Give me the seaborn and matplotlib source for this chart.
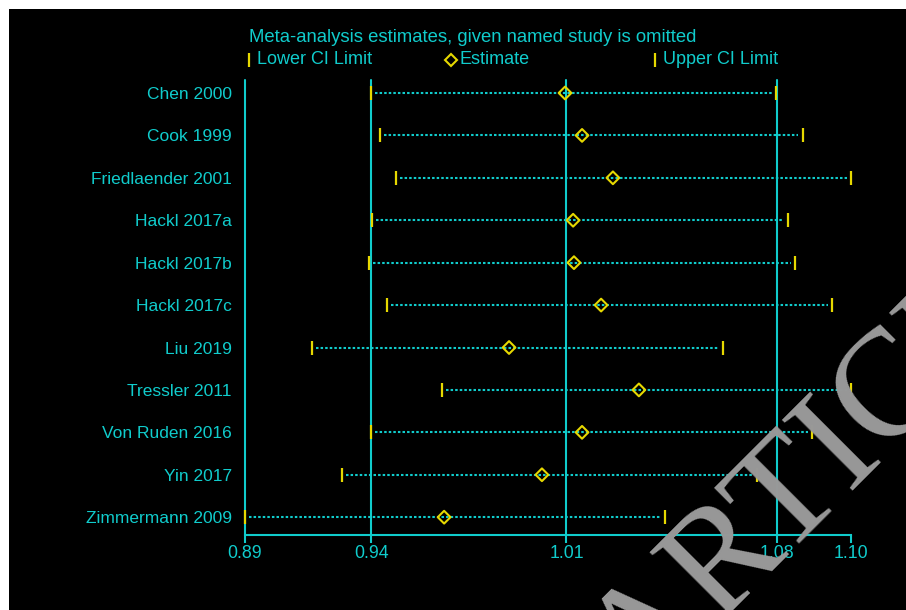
import matplotlib
matplotlib.use("Agg")
import matplotlib.pyplot as plt
from matplotlib.lines import Line2D
from matplotlib.patches import Rectangle
import numpy as np
import pandas as pd
import seaborn as sns

# Leave-one-out meta-analysis: pooled estimate and CI when each study is omitted
studies = ["Chen 2000", "Cook 1999", "Friedlaender 2001", "Hackl 2017a",
           "Hackl 2017b", "Hackl 2017c", "Liu 2019", "Tressler 2011",
           "Von Ruden 2016", "Yin 2017", "Zimmermann 2009"]
lower = [0.9377, 0.9408, 0.9463, 0.9380, 0.9370, 0.9432,
         0.9172, 0.9623, 0.9377, 0.9276, 0.8940]
estimate = [1.0049, 1.0108, 1.0215, 1.0077, 1.0080, 1.0174,
            0.9855, 1.0305, 1.0108, 0.9969, 0.9630]
upper = [1.0780, 1.0873, 1.1040, 1.0821, 1.0846, 1.0974,
         1.0596, 1.1040, 1.0905, 1.0714, 1.0395]

# Axis ticks: smallest lower limit, overall lower CI, overall estimate,
# overall upper CI, largest upper limit
tick_values = [0.8940, 0.9377, 1.0054, 1.0783, 1.1040]

title = "Meta-analysis estimates, given named study is omitted"
legend_labels = ["Lower CI Limit", "Estimate", "Upper CI Limit"]

CYAN = "#10CCCC"
YELLOW = "#E6D800"
GREY = "#999999"

df = pd.DataFrame({"study": studies, "lower": lower,
                   "estimate": estimate, "upper": upper})
df["row"] = np.arange(len(df))

sns.set_style("white")
plt.rcParams["font.family"] = ["Liberation Sans", "DejaVu Sans"]

W, H = 906, 610
fig = plt.figure(figsize=(W / 100, H / 100), dpi=100, facecolor="white")
fig.patches.append(Rectangle((9 / W, 0), 1, 1 - 9 / H, transform=fig.transFigure,
                             facecolor="black", edgecolor="none", zorder=-10))

ax = fig.add_axes([245 / W, 1 - 535 / H, 606 / W, 455 / H])
ax.set_facecolor("none")

# Reference lines at the tick positions (the last tick only has its tick mark)
for v in tick_values[:-1]:
    ax.axvline(v, color=CYAN, lw=1.5, zorder=1, clip_on=False)

# Dotted interval lines, stopping just short of the limit markers
gap = 0.0015
ax.hlines(df["row"], df["lower"] + gap, df["upper"] - gap,
          colors=CYAN, lw=1.5, linestyles=(0, (1.2, 1.0)), zorder=2)

# CI limit markers and estimates
sns.scatterplot(data=df, x="lower", y="row", marker="|", s=100,
                color=YELLOW, linewidth=1.6, ax=ax, zorder=4, legend=False,
                clip_on=False)
sns.scatterplot(data=df, x="upper", y="row", marker="|", s=100,
                color=YELLOW, linewidth=1.6, ax=ax, zorder=4, legend=False,
                clip_on=False)
sns.scatterplot(data=df, x="estimate", y="row", marker="D", s=42,
                facecolor="none", edgecolor=YELLOW, linewidth=1.5,
                ax=ax, zorder=5, legend=False)

ax.set_xlim(tick_values[0], tick_values[-1])
ax.set_ylim(len(df) - 1 + 0.42, -0.306)

ax.set_xticks(tick_values, [f"{v:.2f}" for v in tick_values])
ax.set_yticks(df["row"], df["study"])
ax.set_xlabel("")
ax.set_ylabel("")

for side in ["top", "right", "left"]:
    ax.spines[side].set_visible(False)
ax.spines["bottom"].set_color(CYAN)
ax.spines["bottom"].set_linewidth(1.5)
ax.tick_params(axis="x", colors=CYAN, length=6, width=1.5, direction="out",
               pad=1.5, labelsize=12.8, bottom=True)
ax.tick_params(axis="y", colors=CYAN, length=0, pad=9.5, labelsize=12.5)

# Header: title and key
fig.text(249 / W, 1 - 38 / H, title, color=CYAN, fontsize=13.3,
         ha="left", va="center")
key_y = 1 - 60 / H
key_items = [(249, "|", legend_labels[0]),
             (451, "D", legend_labels[1]),
             (655, "|", legend_labels[2])]
for px, mk, lab in key_items:
    if mk == "|":
        fig.add_artist(Line2D([px / W], [key_y], marker="|", markersize=9.5,
                              mew=1.6, color=YELLOW, transform=fig.transFigure))
    else:
        fig.add_artist(Line2D([px / W], [key_y], marker="D", markersize=6.5,
                              mew=1.5, mfc="none", mec=YELLOW,
                              transform=fig.transFigure))
    fig.text((px + 8) / W, key_y, lab, color=CYAN, fontsize=13,
             ha="left", va="center")

# Diagonal stamp across the lower right
fig.text(640 / W, 1 - 702 / H, "ARTICLE", color=GREY, fontsize=110,
         family="Liberation Serif", rotation=45, rotation_mode="anchor",
         ha="left", va="baseline", zorder=20)

fig.savefig("out.png", dpi=100, facecolor=fig.get_facecolor())
